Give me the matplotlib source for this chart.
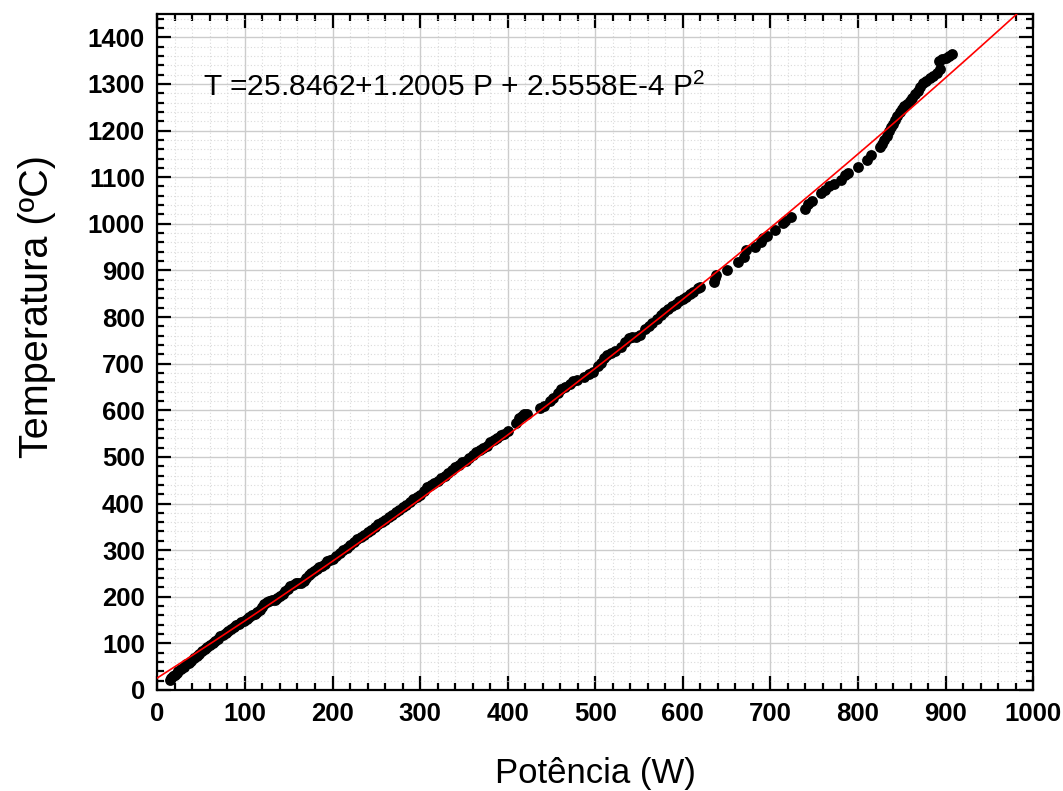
import matplotlib
matplotlib.use("Agg")
import matplotlib.pyplot as plt
import numpy as np
from matplotlib.ticker import MultipleLocator

plt.rcParams['font.family'] = ['Liberation Sans', 'DejaVu Sans']
plt.rcParams['mathtext.fontset'] = 'custom'
plt.rcParams['mathtext.rm'] = 'Liberation Sans'
plt.rcParams['mathtext.default'] = 'regular'

# ---- data ----
power = [14, 16, 18, 20, 22, 24, 27, 30, 33, 36, 39, 42, 45, 48, 51, 54, 57, 60, 63, 66,
         69, 72, 75, 78, 81, 84, 87, 90, 93, 96, 99,
         102, 105, 108, 111, 114, 117, 120, 122, 125, 128, 131, 134, 137, 140, 143, 146,
         149, 152, 155, 158, 161, 164, 167, 170, 173, 176, 179, 182, 185, 188, 191, 194,
         197, 200,
         204, 208, 212, 216, 220, 224, 228, 232, 236, 240, 244, 248, 252, 256, 260, 264,
         268, 272, 276, 280, 284, 288, 292, 296, 300,
         304, 308, 312, 316, 320, 324, 328, 332, 336, 340, 344, 348, 352, 356, 360, 364,
         368, 372, 376, 380, 384, 388, 392, 396, 400,
         410, 413, 416, 419, 422, 437, 441, 448, 452, 457, 461, 465, 471, 475, 479, 487,
         493, 497, 503, 507, 510, 513, 518, 523,
         529, 534, 538, 542, 547, 551, 557, 561, 565, 570, 575, 579, 583, 588, 592, 596,
         600, 604, 608, 612, 617, 620,
         636, 637, 638, 650, 663, 670, 672, 682, 689, 692, 696, 705, 714, 717, 723,
         739, 743, 747, 758, 762, 767, 772, 781, 785, 789, 800, 810, 815, 825, 827, 830,
         833, 835, 838, 840, 842, 845, 848, 850, 853, 856, 859, 862, 865, 868, 871, 874,
         878, 882, 886, 890, 893, 892, 896, 900, 904, 907]
temperature = [22, 25, 29, 33, 36, 41, 45, 50, 55, 58, 63, 68, 73, 78, 83, 87, 93, 97, 101, 106,
               110, 115, 118, 123, 127, 131, 135, 139, 142, 145, 149,
               153, 157, 160, 163, 167, 172, 178, 184, 188, 191, 192, 194, 197, 201, 206, 212,
               217, 222, 226, 229, 229, 230, 233, 240, 247, 252, 256, 260, 263, 267, 271, 276,
               279, 281,
               287, 294, 300, 305, 311, 317, 323, 328, 332, 338, 344, 350, 356, 360, 365, 371,
               376, 381, 387, 392, 397, 403, 409, 414, 418,
               426, 435, 440, 444, 448, 454, 459, 465, 471, 478, 483, 488, 492, 497, 503, 510,
               514, 519, 524, 531, 536, 540, 546, 550, 555,
               573, 583, 588, 592, 591, 605, 609, 619, 626, 638, 646, 649, 656, 662, 665, 671,
               678, 682, 694, 702, 713, 718, 722, 728,
               736, 747, 755, 757, 757, 762, 774, 781, 788, 796, 805, 811, 817, 823, 828, 834,
               839, 844, 850, 854, 862, 865,
               875, 883, 891, 900, 918, 929, 943, 950, 962, 969, 973, 986, 1001, 1006, 1014,
               1031, 1042, 1048, 1065, 1072, 1080, 1086, 1094, 1104, 1108, 1122, 1136, 1147, 1164, 1171, 1180,
               1189, 1198, 1207, 1215, 1222, 1231, 1240, 1247, 1253, 1258, 1264, 1270, 1278, 1284, 1293, 1303,
               1307, 1313, 1318, 1324, 1333, 1350, 1353, 1356, 1360, 1365]

fit_coeffs = [25.8462, 1.2005, 2.5558e-4]   # T = a + b P + c P^2
equation_text = r"T =25.8462+1.2005 P + 2.5558E-4 P$^2$"
xlabel = "Potência (W)"
ylabel = "Temperatura (ºC)"

# ---- figure ----
fig = plt.figure(figsize=(10.63, 7.91), dpi=100)
ax = fig.add_axes([0.148, 0.1277, 0.824, 0.8546])

ax.set_xlim(0, 1000)
ax.set_ylim(0, 1450)

ax.xaxis.set_major_locator(MultipleLocator(100))
ax.xaxis.set_minor_locator(MultipleLocator(20))
ax.yaxis.set_major_locator(MultipleLocator(100))
ax.yaxis.set_minor_locator(MultipleLocator(20))

ax.grid(which='major', color='#cccccc', linewidth=1.0, linestyle='-', zorder=0)
ax.grid(which='minor', color='#dadada', linewidth=0.8, linestyle=(0, (1, 2)), zorder=0)
ax.set_axisbelow(True)

ax.plot(power, temperature, 'o', color='black', markersize=7.8, markeredgewidth=0, zorder=3)

P = np.linspace(0, 1000, 400)
T = fit_coeffs[0] + fit_coeffs[1] * P + fit_coeffs[2] * P ** 2
ax.plot(P, T, color='#ff0000', linewidth=1.2, zorder=4)

ax.text(52, 1275, equation_text, fontsize=21.5, va='baseline', ha='left', zorder=5)

for s in ax.spines.values():
    s.set_linewidth(1.6)

ax.tick_params(which='both', direction='in', top=True, right=True, width=1.6)
ax.tick_params(which='major', length=10, pad=9)
ax.tick_params(which='minor', length=5)
for lbl in ax.get_xticklabels() + ax.get_yticklabels():
    lbl.set_fontweight('bold')
    lbl.set_fontsize(18.5)

ax.set_xlabel(xlabel, fontsize=25, labelpad=22)
ax.set_ylabel(ylabel, fontsize=28.5, va='center')
ax.yaxis.set_label_coords(-0.137, 0.567)

fig.savefig("out.png", dpi=100)
